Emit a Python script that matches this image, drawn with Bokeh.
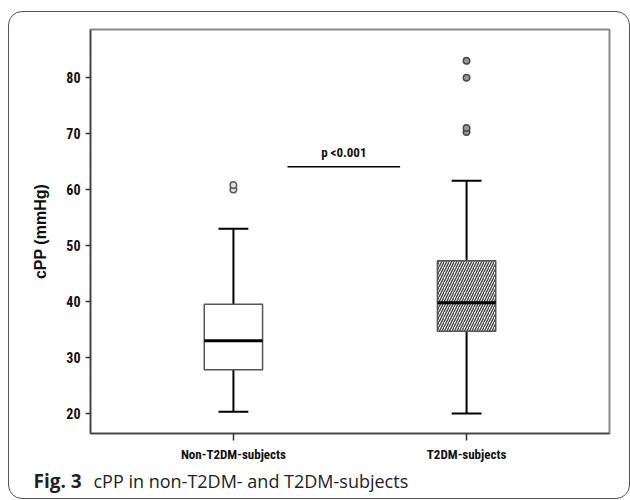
from bokeh.plotting import figure
from bokeh.layouts import column
from bokeh.models import FixedTicker, Range1d, Label
from bokeh.embed import file_html
from bokeh.resources import INLINE

# ---- data ----
groups = ["Non-T2DM-subjects", "T2DM-subjects"]
lower_whisker = [20.3, 20.0]
q1 = [27.8, 34.7]
median = [33.0, 39.8]
q3 = [39.5, 47.3]
upper_whisker = [53.0, 61.6]
outliers_non = [60.0, 60.8]
outliers_t2dm = [70.3, 71.0, 80.0, 83.0]
y_ticks = [20, 30, 40, 50, 60, 70, 80]
p_text = "p <0.001"
p_level = 64.1
caption_bold = "Fig. 3"
caption_text = "cPP in non-T2DM- and T2DM-subjects"

pos = [i + 1 for i in range(len(groups))]
box_w = 0.25
cap_half = 0.064

NARROW = "Liberation Sans Narrow, Roboto Condensed, DejaVu Sans Condensed, Arial Narrow, sans-serif"
W = 620

p = figure(width=W, height=452, output_backend="svg", toolbar_location=None,
           x_range=Range1d(0.387, 2.613), y_range=Range1d(16.43, 88.6),
           min_border_left=81, min_border_right=20, min_border_top=17, min_border_bottom=30)
p.frame_align = False
p.background_fill_color = "white"
p.border_fill_color = None
p.xgrid.visible = False
p.ygrid.visible = False
p.outline_line_color = "#8a8a8a"
p.outline_line_width = 2

# whiskers
p.segment(x0=pos, y0=q3, x1=pos, y1=upper_whisker, line_color="black", line_width=2)
p.segment(x0=pos, y0=q1, x1=pos, y1=lower_whisker, line_color="black", line_width=2)
p.segment(x0=[x - cap_half for x in pos], y0=upper_whisker,
          x1=[x + cap_half for x in pos], y1=upper_whisker, line_color="black", line_width=2)
p.segment(x0=[x - cap_half for x in pos], y0=lower_whisker,
          x1=[x + cap_half for x in pos], y1=lower_whisker, line_color="black", line_width=2)

# boxes
p.vbar(x=[pos[0]], width=box_w, bottom=[q1[0]], top=[q3[0]],
       fill_color="white", line_color="#555555", line_width=1.5)
p.vbar(x=[pos[1]], width=box_w, bottom=[q1[1]], top=[q3[1]],
       fill_color="#f2f2f2", line_color="#555555", line_width=1.5,
       hatch_pattern="/", hatch_color="#444444", hatch_scale=5, hatch_weight=1.3)

# medians
p.segment(x0=[x - box_w / 2 for x in pos], y0=median,
          x1=[x + box_w / 2 for x in pos], y1=median, line_color="black", line_width=3)

# outliers
p.scatter(x=[pos[0]] * len(outliers_non), y=outliers_non, size=6.5,
          fill_color="#e0e0e0", line_color="#555555", line_width=1.5)
p.scatter(x=[pos[1]] * len(outliers_t2dm), y=outliers_t2dm, size=6.5,
          fill_color="#999999", line_color="#444444", line_width=1.5)

# significance bar
p.segment(x0=[1.232], y0=[p_level], x1=[1.715], y1=[p_level], line_color="black", line_width=1.5)
p.add_layout(Label(x=(1.232 + 1.715) / 2, y=p_level, text=p_text, y_offset=7,
                   text_align="center", text_baseline="bottom",
                   text_font=NARROW, text_font_style="bold", text_font_size="13px",
                   text_color="#111111"))

# axes
p.yaxis.ticker = FixedTicker(ticks=y_ticks)
p.xaxis.ticker = FixedTicker(ticks=pos)
p.xaxis.major_label_overrides = {x: g for x, g in zip(pos, groups)}
for ax in (p.xaxis[0], p.yaxis[0]):
    ax.axis_line_color = "#444444"
    ax.axis_line_width = 1.5
    ax.major_tick_line_color = "#333333"
    ax.major_tick_line_width = 1.5
    ax.minor_tick_line_color = None
    ax.major_tick_in = 0
    ax.major_label_text_font = NARROW
    ax.major_label_text_font_style = "bold"
    ax.major_label_text_color = "#111111"
p.yaxis.major_tick_out = 5
p.yaxis.major_label_text_font_size = "14px"
p.yaxis.major_label_standoff = 5
p.xaxis.major_tick_out = 7
p.xaxis.major_label_text_font_size = "13px"
p.xaxis.major_label_standoff = 6

p.yaxis.axis_label = "cPP (mmHg)"
p.yaxis.axis_label_text_font = "Liberation Sans, Arial, sans-serif"
p.yaxis.axis_label_text_font_style = "bold"
p.yaxis.axis_label_text_font_size = "16px"
p.yaxis.axis_label_text_color = "#111111"
p.yaxis.axis_label_standoff = 14

# caption strip (its frame covers the whole canvas so the texts are not clipped)
cap = figure(width=W, height=34, output_backend="svg", toolbar_location=None,
             x_range=Range1d(0, W), y_range=Range1d(0, 34),
             min_border=0, min_border_left=0, min_border_right=0,
             min_border_top=0, min_border_bottom=0)
cap.frame_align = False
cap.axis.visible = False
cap.grid.visible = False
cap.outline_line_color = None
cap.background_fill_color = None
cap.border_fill_color = None
cap.add_layout(Label(x=24, y=18, text=caption_bold,
                     text_baseline="middle", text_font="Open Sans", text_font_style="bold",
                     text_font_size="19px", text_color="#222222"))
cap.add_layout(Label(x=84, y=18, text=caption_text,
                     text_baseline="middle", text_font="Open Sans", text_font_style="normal",
                     text_font_size="18px", text_color="#222222"))

layout = column(p, cap, spacing=0, margin=(11, 0, 0, 8),
                styles={"border": "1.5px solid #555", "border-radius": "14px",
                        "background": "white"})

open("out.html", "w").write(file_html(layout, INLINE))
